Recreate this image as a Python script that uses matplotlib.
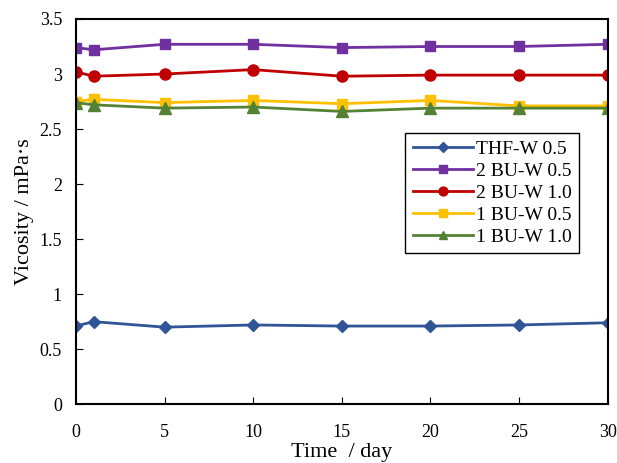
import matplotlib
matplotlib.use("Agg")
from matplotlib import pyplot as plt
from matplotlib.ticker import FuncFormatter

plt.rcParams["font.family"] = ["Liberation Serif", "DejaVu Serif"]

days = [0, 1, 5, 10, 15, 20, 25, 30]
thf_w_05 = [0.71, 0.75, 0.70, 0.72, 0.71, 0.71, 0.72, 0.74]
bu2_w_05 = [3.24, 3.22, 3.27, 3.27, 3.24, 3.25, 3.25, 3.27]
bu2_w_10 = [3.02, 2.98, 3.00, 3.04, 2.98, 2.99, 2.99, 2.99]
bu1_w_05 = [2.75, 2.77, 2.74, 2.76, 2.73, 2.76, 2.71, 2.71]
bu1_w_10 = [2.74, 2.72, 2.69, 2.70, 2.66, 2.69, 2.69, 2.69]

fig = plt.figure(figsize=(6.17, 4.63), dpi=100)
ax = fig.add_axes([0.123, 0.127, 0.862, 0.832])

ax.plot(days, thf_w_05, color="#2F5597", marker="D", ms=6, lw=2, label="THF-W 0.5")
ax.plot(days, bu2_w_05, color="#7030A0", marker="s", ms=7, lw=2, label="2 BU-W 0.5")
ax.plot(days, bu2_w_10, color="#C00000", marker="o", ms=8, lw=2, label="2 BU-W 1.0")
ax.plot(days, bu1_w_05, color="#FFC000", marker="s", ms=7, lw=2, label="1 BU-W 0.5")
ax.plot(days, bu1_w_10, color="#548235", marker="^", ms=8, lw=2, label="1 BU-W 1.0")

ax.set_xlim(0, 30)
ax.set_ylim(0, 3.5)
ax.set_xticks([0, 5, 10, 15, 20, 25, 30])
ax.set_yticks([0, 0.5, 1, 1.5, 2, 2.5, 3, 3.5])
ax.yaxis.set_major_formatter(FuncFormatter(lambda v, p: f"{v:g}"))
ax.tick_params(direction="in", labelsize=13, length=5)
ax.tick_params(axis="x", pad=14)
ax.tick_params(axis="y", pad=10)
for s in ax.spines.values():
    s.set_linewidth(1.5)

ax.set_xlabel("Time  / day", fontsize=16, labelpad=2)
ax.set_ylabel("Vicosity / mPa·s", fontsize=16, labelpad=4)

leg = ax.legend(loc="upper left", bbox_to_anchor=(0.6, 0.73), fontsize=14,
                frameon=True, fancybox=False, edgecolor="black", framealpha=1,
                handlelength=3.1, handletextpad=0.15, borderpad=0.4, labelspacing=0.22,
                markerscale=0.8)
leg.get_frame().set_linewidth(1.0)

fig.savefig("out.png", dpi=100)
